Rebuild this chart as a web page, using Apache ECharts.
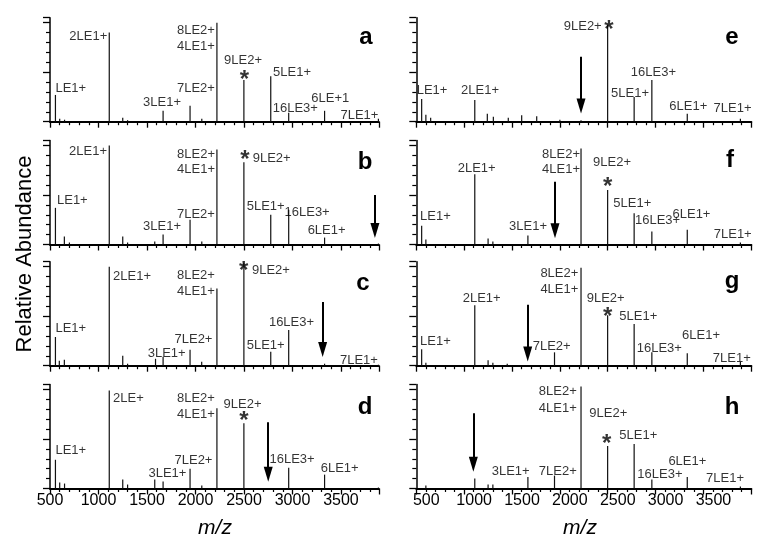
<!DOCTYPE html>
<html><head><meta charset="utf-8">
<script src="https://cdn.jsdelivr.net/npm/echarts@6/dist/echarts.min.js"></script>
<style>html,body{margin:0;padding:0;background:#fff}#c{width:760px;height:547px}</style>
</head><body><div id="c"></div>
<script>
// ---- data: [m/z, relative intensity] ----
const peaksA = [[556,27],[600,3],[650,2],[1111,90],[1250,4],[1300,1.5],[1666,11],[1944,16],[2065,3],[2221,100],[2499,42],[2776,46],[2961,9],[3331,11],[3886,3]];
const peaksB = [[556,37],[648,8],[700,2],[1111,100],[1250,8],[1300,2],[1580,3],[1666,10],[1944,25],[2065,3],[2221,96],[2499,83],[2776,30],[2961,35],[3331,7],[3886,1]];
const peaksC = [[556,29],[596,5],[648,6],[1111,100],[1250,10],[1300,2],[1588,7],[1666,9],[1944,16],[2064,4],[2221,78],[2499,104],[2776,14],[2961,36],[3331,2],[3886,1]];
const peaksD = [[556,29],[600,6],[650,5],[1111,99],[1250,9],[1300,4],[1580,9],[1666,7],[1944,20],[2065,3],[2221,81],[2499,66],[2961,21],[3331,14],[3886,1]];
const peaksE = [[556,23],[600,7],[650,4],[1111,22],[1242,8],[1305,5],[1461,4],[1601,6.5],[1758,5.5],[2000,2],[2221,1.5],[2499,98],[2776,25],[2961,42],[3331,8],[3886,3]];
const peaksF = [[556,19],[600,5],[1111,71],[1250,6],[1300,3],[1666,9],[2221,97],[2499,55],[2776,31.5],[2961,13],[3331,15],[3886,2]];
const peaksG = [[556,16.5],[600,3],[1111,61],[1250,5.5],[1300,3],[1450,2],[1944,13.5],[2221,99],[2499,51],[2776,42],[2961,13.5],[3331,12.5],[3886,4]];
const peaksH = [[600,3],[1111,10],[1250,4],[1300,4],[1666,11.5],[1944,13],[2221,103],[2499,43],[2776,45],[2961,9],[3331,11.5],[3886,2]];

// ---- peak annotations: [text, m/z anchor, intensity anchor, align] ----
const labelsA = [['LE1+',556,34,'left'],['2LE1+',1090,85.6,'right'],['3LE1+',1655,19,'center'],['7LE2+',2200,34,'right'],['8LE2+',2200,92.6,'right'],['4LE1+',2200,76.5,'right'],['9LE2+',2490,62,'center'],['*',2505,48,'center'],['5LE1+',2800,49.5,'left'],['16LE3+',2796,13,'left'],['6LE+1',3390,24,'center'],['7LE1+',3886,6,'right']];
const labelsB = [['LE1+',572,44,'left'],['2LE1+',1088,93.7,'right'],['8LE2+',2201,91,'right'],['4LE1+',2201,76,'right'],['*',2510,91,'center'],['9LE2+',2590,87,'left'],['5LE1+',2528,38,'left'],['16LE3+',2918,32.5,'left'],['7LE2+',2200,30.5,'right'],['3LE1+',1655,18,'center'],['6LE1+',3352,14.6,'center']];
const labelsC = [['LE1+',556,37.6,'left'],['2LE1+',1150,89.7,'left'],['8LE2+',2200,91.4,'right'],['4LE1+',2200,75.3,'right'],['*',2497,101.5,'center'],['9LE2+',2582,96.5,'left'],['16LE3+',2757,43.4,'left'],['5LE1+',2528,20,'left'],['7LE2+',2175,26.8,'right'],['3LE1+',1703,12.3,'center'],['7LE1+',3881,5.6,'right']];
const labelsD = [['LE1+',556,38.9,'left'],['2LE+',1150,91,'left'],['8LE2+',2200,91,'right'],['4LE1+',2200,75,'right'],['9LE2+',2485,85,'center'],['*',2500,74,'center'],['7LE2+',2175,28,'right'],['3LE1+',1711,15.4,'center'],['16LE3+',2763,29.5,'left'],['6LE1+',3291,20.4,'left']];
const labelsE = [['LE1+',504,31.8,'left'],['2LE1+',1166,31.8,'center'],['9LE2+',2437,95.8,'right'],['*',2512,98.5,'center'],['5LE1+',2733,29,'center'],['16LE3+',2977,49.3,'center'],['6LE1+',3342,15.7,'center'],['7LE1+',3804,13.6,'center']];
const labelsF = [['LE1+',539,28,'left'],['2LE1+',1131,77,'center'],['3LE1+',1667,18,'center'],['8LE2+',2210,91,'right'],['4LE1+',2210,76,'right'],['9LE2+',2545,82.6,'center'],['*',2500,63.4,'center'],['5LE1+',2558,41.6,'left'],['16LE3+',2785,24,'left'],['6LE1+',3375,30.5,'center'],['7LE1+',3806,10.6,'center']];
const labelsG = [['LE1+',539,24.5,'left'],['2LE1+',1183,67.7,'center'],['7LE2+',1716,19.5,'left'],['8LE2+',2193,93.6,'right'],['4LE1+',2193,76.8,'right'],['9LE2+',2280,68.4,'left'],['*',2500,54.8,'center'],['5LE1+',2621,50,'left'],['16LE3+',2803,17.9,'left'],['6LE1+',3475,30.6,'center'],['7LE1+',3796,7.8,'center']];
const labelsH = [['3LE1+',1486,17.7,'center'],['7LE2+',2176,17.7,'right'],['8LE2+',2176,97.8,'right'],['4LE1+',2176,81,'right'],['9LE2+',2308,76,'left'],['*',2489,50.7,'center'],['5LE1+',2621,54,'left'],['16LE3+',2809,14.3,'left'],['6LE1+',3332,27,'center'],['7LE1+',3726,10.3,'center']];

// ---- arrows: [m/z, from intensity, tip intensity] ----
const arrowsA = [];
const arrowsB = [[3850,50,6.5]];
const arrowsC = [[3311,64.4,8.9]];
const arrowsD = [[2750,67,6.9]];
const arrowsE = [[2221,65.5,8.3]];
const arrowsF = [[1949,63.4,6.3]];
const arrowsG = [[1664,61.6,4.3]];
const arrowsH = [[1096,76,17]];

const panelLetters = ['a','b','c','d','e','f','g','h'];
const xTickLabels = [500,1000,1500,2000,2500,3000,3500];
const xTitle = 'm/z';
const yTitle = 'Relative Abundance';

// ---- layout ----
const FONT = 'Liberation Sans, Arial, Helvetica, sans-serif';
const cols = [{left:50, width:328.8, max:3890},{left:416.3, width:335, max:4000}];
const rowBase = [121.7, 244.5, 365.7, 488.5];
const H = 104, YMAX = 105;
const panels = [
  [peaksA,labelsA,arrowsA],[peaksB,labelsB,arrowsB],[peaksC,labelsC,arrowsC],[peaksD,labelsD,arrowsD],
  [peaksE,labelsE,arrowsE],[peaksF,labelsF,arrowsF],[peaksG,labelsG,arrowsG],[peaksH,labelsH,arrowsH]
];
const letterPos = [[366,37],[365,162],[363,283],[365,407],[732,37],[730,160],[732,281],[732,407]];

const grid=[], xAxis=[], yAxis=[], series=[], graphic=[];
const unitPerPx = YMAX / H;
panels.forEach((p,i)=>{
  const col = i<4?0:1, row = i%4, c = cols[col];
  grid.push({left:c.left, top:rowBase[row]-H, width:c.width, height:H});
  xAxis.push({type:'value', gridIndex:i, min:500, max:c.max, interval:500,
    axisLine:{onZero:false, lineStyle:{color:'#000', width:2}},
    axisTick:{show:true, length:6, lineStyle:{color:'#000', width:1.3}},
    minorTick:{show:true, splitNumber:5, length:3.5, lineStyle:{color:'#000', width:1.2}},
    splitLine:{show:false},
    axisLabel:{show:row===3, color:'#000', fontSize:16, fontFamily:FONT, margin:4,
      padding: col===1?[0,0,0,20]:0,
      formatter:v=> xTickLabels.indexOf(v)>=0 ? String(v) : ''}
  });
  yAxis.push({type:'value', gridIndex:i, min:0, max:YMAX, interval:50,
    axisLine:{show:true, onZero:false, lineStyle:{color:'#000', width:1.5}},
    axisTick:{show:true, length:7, lineStyle:{color:'#000', width:1.3}},
    minorTick:{show:true, splitNumber:5, length:4, lineStyle:{color:'#000', width:1.2}},
    splitLine:{show:false}, axisLabel:{show:false}
  });
  series.push({type:'bar', xAxisIndex:i, yAxisIndex:i, data:p[0], barWidth:1.2,
    itemStyle:{color:'#111'}, silent:true,
    markLine:{silent:true, symbol:['none','triangle'], symbolSize:[9,15],
      lineStyle:{color:'#000', width:2, type:'solid'}, label:{show:false},
      emphasis:{disabled:true},
      data:p[2].map(a=>[{coord:[a[0],a[1]]},{coord:[a[0],a[2]+7.5*unitPerPx]}])}
  });
  series.push({type:'scatter', xAxisIndex:i, yAxisIndex:i, symbolSize:1, silent:true,
    itemStyle:{color:'transparent'},
    label:{show:true, position:'inside', color:'#000', fontSize:13, fontFamily:FONT, verticalAlign:'middle'},
    data:p[1].map(l=>{
      const star = l[0]==='*';
      return {value:[l[1],l[2]], label:{formatter:l[0], align:l[3],
        fontSize: star?24:13, fontWeight: star?'bold':'normal', offset: star?[0,6]:[0,0]}};
    })
  });
  graphic.push({type:'text', x:letterPos[i][0], y:letterPos[i][1],
    style:{text:panelLetters[i], fill:'#000', font:'bold 24px '+FONT, textAlign:'center', textVerticalAlign:'middle'}});
});
graphic.push({type:'text', x:25, y:254, rotation:Math.PI/2,
  style:{text:yTitle, fill:'#000', font:'22px '+FONT, textAlign:'center', textVerticalAlign:'middle'}});
graphic.push({type:'text', x:215, y:528,
  style:{text:xTitle, fill:'#000', font:'italic 21px '+FONT, textAlign:'center', textVerticalAlign:'middle'}});
graphic.push({type:'text', x:580, y:528,
  style:{text:xTitle, fill:'#000', font:'italic 21px '+FONT, textAlign:'center', textVerticalAlign:'middle'}});

const chart = echarts.init(document.getElementById('c'), null, {renderer:'canvas'});
chart.setOption({animation:false, grid, xAxis, yAxis, series, graphic});
</script></body></html>
